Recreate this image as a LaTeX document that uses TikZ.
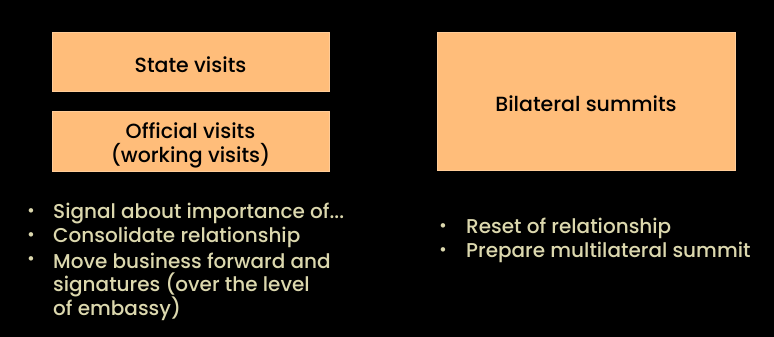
\documentclass[tikz,border=0pt]{standalone}
\usepackage{fontspec}
\setmainfont{Poppins}[UprightFont=* Medium]
\definecolor{boxfill}{HTML}{FFBD7A}
\definecolor{boxedge}{HTML}{FFCC98}
\definecolor{bullettext}{HTML}{DCD8AE}
\begin{document}
\begin{tikzpicture}[x=1pt,y=-1pt,
  box/.style={draw=boxedge,line width=1pt,fill=boxfill,inner sep=0pt},
  boxlabel/.style={text=black,font=\fontsize{20.5}{24}\selectfont,align=center,inner sep=0pt},
  btxt/.style={anchor=west,text=bullettext,font=\fontsize{20}{24}\selectfont,inner sep=0pt},
  bdot/.style={anchor=center,text=bullettext,font=\fontsize{17}{24}\selectfont,inner sep=0pt}]
\fill[black] (0,0) rectangle (774,337);
\useasboundingbox (0,0) rectangle (774,337);
\node[box,minimum width=277pt,minimum height=59pt] (state) at (190.5,62.5) {};
\node[boxlabel] (statet) at ([yshift=-2pt]state.center) {State visits};
\node[box,minimum width=277pt,minimum height=60pt] (official) at (190.5,141) {};
\node[boxlabel] (officialt) at ([yshift=-4pt]official.center) {Official visits\\(working visits)};
\node[box,minimum width=298pt,minimum height=137pt] (bilat) at (586,101.5) {};
\node[boxlabel] (bilatt) at ([yshift=-2pt]bilat.center) {Bilateral summits};
% left bullets
\node[bdot] (d1) at (31,213) {•};
\node[btxt] (l1) at (53,213) {Signal about importance of...};
\node[bdot] (d2) at (31,237) {•};
\node[btxt] (l2) at (53,237) {Consolidate relationship};
\node[bdot] (d3) at (31,261) {•};
\node[btxt] (l3) at (53,261) {Move business forward and};
\node[btxt] (l4) at (53,285) {signatures (over the level};
\node[btxt] (l5) at (53,309) {of embassy)};
% right bullets
\node[bdot] (r1d) at (443,228) {•};
\node[btxt] (r1) at (466,228) {Reset of relationship};
\node[bdot] (r2d) at (443,252) {•};
\node[btxt] (r2) at (466,252) {Prepare multilateral summit};
\end{tikzpicture}
\end{document}
